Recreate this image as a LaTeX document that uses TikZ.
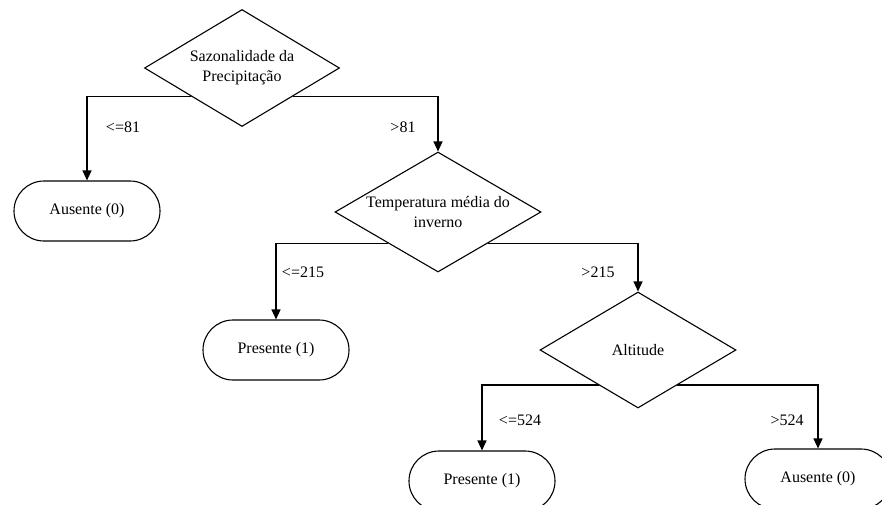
\documentclass[tikz,border=0pt]{standalone}
\usepackage{fontspec}
\setmainfont{Liberation Serif}
\usetikzlibrary{shapes.geometric,shapes.misc,arrows.meta,calc}
\tikzset{
  dec/.style={diamond, draw, line width=1.1pt, inner sep=0pt},
  leaf/.style={rounded rectangle, draw, line width=1.1pt, minimum width=146pt, minimum height=60pt, inner sep=0pt, font=\fontsize{16}{20}\selectfont},
  dtext/.style={font=\fontsize{16}{20}\selectfont, align=center},
  arr/.style={line width=1.3pt, -{Triangle[width=9pt,length=10pt]}},
  lbl/.style={font=\fontsize{16}{20}\selectfont, inner sep=1pt}
}
\begin{document}
\begin{tikzpicture}[x=1pt,y=-1pt]
\useasboundingbox (0,0) rectangle (882,504);
\clip (0,0) rectangle (882,504);
\fill[white] (0,0) rectangle (882,504);

\node[dec, minimum width=195pt, minimum height=117pt] (d1) at (242,68) {};
\node[dtext] (t1) at (242,68) {Sazonalidade da\\Precipitação};
\node[leaf] (b1) at (87,211) {Ausente (0)};
\node[dec, minimum width=206pt, minimum height=120pt] (d2) at (438,212) {};
\node[dtext] (t2) at (438,212) {Temperatura média do\\inverno};
\node[leaf] (b2) at (276,350) {Presente (1)};
\node[dec, minimum width=196pt, minimum height=116pt] (d3) at (638,350) {};
\node[dtext] (t3) at (638,350) {Altitude};
\node[leaf] (b3) at (482,481) {Presente (1)};
\node[leaf] (b4) at (818,479) {Ausente (0)};

\draw[arr] ($(d1.west)!0.48!(d1.south)$) -| (b1.north);
\draw[arr] ($(d1.east)!0.48!(d1.south)$) -| (d2.north);
\draw[arr] ($(d2.west)!0.52!(d2.south)$) -| (b2.north);
\draw[arr] ($(d2.east)!0.52!(d2.south)$) -| (d3.north);
\draw[arr] ($(d3.west)!0.6!(d3.south)$) -| (b3.north);
\draw[arr] ($(d3.east)!0.6!(d3.south)$) -| (b4.north);

\node[lbl] (l1) at (123,127) {<=81};
\node[lbl] (l2) at (403,127) {>81};
\node[lbl] (l3) at (303,272) {<=215};
\node[lbl] (l4) at (598,272) {>215};
\node[lbl] (l5) at (520,420) {<=524};
\node[lbl] (l6) at (787,420) {>524};
\end{tikzpicture}
\end{document}
